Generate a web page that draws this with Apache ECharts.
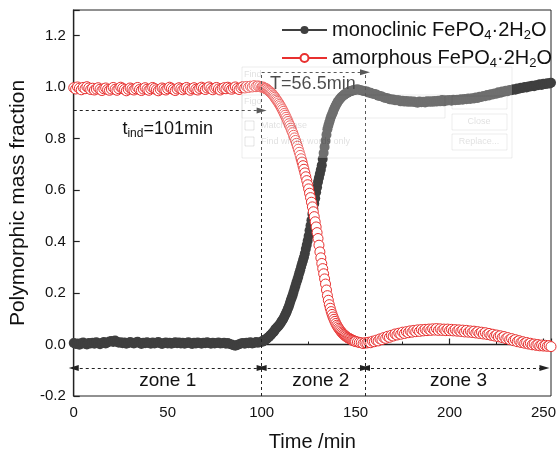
<!DOCTYPE html>
<html><head><meta charset="utf-8">
<script src="https://cdn.jsdelivr.net/npm/echarts@6/dist/echarts.min.js"></script>
<style>html,body{margin:0;padding:0;background:#fff}#c{width:559px;height:457px}</style>
</head><body><div id="c"></div>
<script>
// ---------------- data ----------------
// sampling grid of the measurement: [first, last, step] in min
const timeSegments = [[0, 99, 1], [100, 149.5, 0.5], [150, 255, 1]];
const seriesNames = ['monoclinic FePO4·2H2O', 'amorphous FePO4·2H2O'];
const monoclinic = [
 0.006,0.002,0.004,-0.001,0.005,0.008,0.003,0.000,0.006,0.004,
 0.007,0.003,0.009,0.005,0.001,0.006,0.010,0.004,0.008,0.012,
 0.014,0.010,0.016,0.011,0.007,0.009,0.005,0.008,0.003,0.006,
 0.010,0.007,0.004,0.008,0.011,0.006,0.002,0.007,0.005,0.009,
 0.006,0.003,0.008,0.004,0.007,0.010,0.005,0.002,0.006,0.008,
 0.004,0.007,0.003,0.006,0.009,0.005,0.008,0.004,0.007,0.003,
 0.006,0.009,0.005,0.002,0.007,0.004,0.008,0.006,0.003,0.007,
 0.005,0.009,0.006,0.003,0.007,0.004,0.006,0.008,0.004,0.005,
 0.007,0.003,0.006,0.002,0.000,-0.003,-0.005,-0.002,0.001,0.004,
 0.006,0.003,0.007,0.005,0.009,0.004,0.006,0.010,0.007,0.009,
 // 100 - 149.5, every 0.5 min
 0.012,0.011,0.015,0.018,0.019,0.022,0.024,0.028,0.030,0.035,
 0.038,0.043,0.047,0.050,0.056,0.061,0.064,0.069,0.072,0.078,
 0.082,0.089,0.094,0.099,0.107,0.115,0.122,0.130,0.140,0.149,
 0.160,0.172,0.182,0.192,0.204,0.217,0.228,0.241,0.252,0.263,
 0.277,0.289,0.302,0.315,0.327,0.339,0.354,0.371,0.387,0.403,
 0.422,0.443,0.462,0.483,0.507,0.528,0.547,0.568,0.592,0.611,
 0.632,0.648,0.664,0.679,0.697,0.721,0.744,0.768,0.792,0.815,
 0.837,0.851,0.864,0.876,0.887,0.896,0.904,0.914,0.922,0.930,
 0.937,0.943,0.948,0.953,0.957,0.962,0.965,0.968,0.971,0.974,
 0.976,0.978,0.980,0.982,0.983,0.985,0.986,0.987,0.988,0.989,
 // 150 - 255
 0.990,0.992,0.989,0.988,0.985,0.984,0.983,0.979,0.978,0.975,
 0.974,0.972,0.967,0.966,0.964,0.960,0.958,0.957,0.953,0.952,
 0.952,0.949,0.949,0.949,0.945,0.947,0.944,0.946,0.943,0.945,
 0.943,0.944,0.942,0.940,0.944,0.942,0.943,0.941,0.945,0.943,
 0.945,0.943,0.946,0.944,0.947,0.945,0.950,0.945,0.949,0.948,
 0.950,0.947,0.951,0.949,0.951,0.950,0.953,0.951,0.954,0.953,
 0.956,0.954,0.957,0.956,0.960,0.958,0.963,0.962,0.966,0.965,
 0.970,0.968,0.973,0.972,0.976,0.975,0.980,0.978,0.983,0.982,
 0.986,0.984,0.989,0.988,0.992,0.990,0.995,0.994,0.998,0.997,
 1.001,0.999,1.003,1.003,1.006,1.004,1.008,1.008,1.011,1.009,
 1.013,1.012,1.015,1.014,1.017,1.016
];
const amorphous = [
 0.998,0.993,1.001,0.996,0.990,0.999,0.994,1.002,0.997,0.991,
 0.996,0.989,0.993,0.998,0.992,0.987,0.994,0.997,0.991,0.988,
 0.993,0.999,0.992,0.988,0.994,1.000,0.996,0.991,0.986,0.992,
 0.997,0.993,0.989,0.994,0.999,0.991,0.987,0.993,0.998,0.992,
 0.988,0.994,0.999,0.995,0.990,0.986,0.992,0.997,0.993,0.989,
 0.994,1.000,0.996,0.991,0.987,0.993,0.998,0.994,0.990,0.995,
 0.999,0.993,0.988,0.994,0.998,0.992,0.989,0.995,1.000,0.996,
 0.991,0.997,1.001,0.995,0.990,0.996,0.999,0.993,0.989,0.995,
 0.998,0.994,1.000,0.996,0.992,0.997,1.001,0.995,0.991,0.998,
 1.002,0.997,1.003,0.999,1.004,1.001,1.006,1.002,1.005,1.003,
 // 100 - 149.5, every 0.5 min
 1.000,1.001,0.998,0.997,0.995,0.994,0.991,0.988,0.985,0.982,
 0.978,0.975,0.970,0.966,0.961,0.955,0.950,0.945,0.939,0.933,
 0.927,0.920,0.913,0.906,0.898,0.891,0.883,0.875,0.867,0.858,
 0.850,0.841,0.832,0.823,0.813,0.803,0.793,0.782,0.771,0.759,
 0.747,0.735,0.722,0.709,0.695,0.681,0.667,0.652,0.637,0.621,
 0.605,0.588,0.571,0.553,0.535,0.516,0.497,0.477,0.457,0.435,
 0.412,0.386,0.360,0.337,0.315,0.295,0.275,0.255,0.235,0.212,
 0.190,0.172,0.155,0.141,0.128,0.117,0.107,0.098,0.090,0.082,
 0.075,0.069,0.063,0.058,0.053,0.048,0.044,0.040,0.037,0.034,
 0.031,0.028,0.026,0.024,0.022,0.020,0.018,0.016,0.015,0.013,
 // 150 - 255
 0.012,0.010,0.008,0.007,0.004,0.007,0.006,0.009,0.007,0.013,
 0.011,0.017,0.014,0.022,0.019,0.027,0.024,0.032,0.028,0.036,
 0.033,0.041,0.037,0.044,0.040,0.048,0.043,0.050,0.046,0.053,
 0.048,0.055,0.050,0.057,0.051,0.058,0.053,0.059,0.054,0.060,
 0.055,0.061,0.056,0.062,0.055,0.061,0.055,0.060,0.054,0.060,
 0.054,0.059,0.053,0.058,0.052,0.057,0.051,0.056,0.049,0.055,
 0.048,0.053,0.047,0.052,0.045,0.050,0.043,0.048,0.041,0.046,
 0.039,0.043,0.036,0.040,0.033,0.037,0.030,0.034,0.027,0.031,
 0.023,0.027,0.019,0.023,0.015,0.019,0.011,0.015,0.008,0.011,
 0.005,0.008,0.002,0.005,-0.001,0.002,-0.003,0.000,-0.005,-0.002,
 -0.006,-0.003,-0.007,-0.004,-0.008,-0.006
];
const xTickLabels = [0, 50, 100, 150, 200, 250];
const yTickLabels = ['-0.2','0.0','0.2','0.4','0.6','0.8','1.0','1.2'];
const tIndStart = 100;     // induction end, min
const zone2End = 155;      // end of zone 2, min
const zonesEnd = 250.5;
const tIndLevel = 0.909;
const tLevel = 1.058;
const zoneLevel = -0.091;
const zoneNames = ['zone 1', 'zone 2', 'zone 3'];
const tIndText = ['t', 'ind', '=101min'];
const tText = 'T=56.5min';

// ---------------- chart ----------------
const FONT = "'Liberation Sans', Arial, sans-serif";
const time = [];
timeSegments.forEach(([a, b, s]) => { for (let k = 0; a + k * s <= b + 1e-9; k++) time.push(+(a + k * s).toFixed(2)); });
const chart = echarts.init(document.getElementById('c'), null, {renderer: 'canvas'});
const XMIN = 0, XMAX = 254, YMIN = -0.2, YMAX = 1.3;

function richName(n) {
  return n.replace('FePO4·2H2O', '{a|FePO}{s|4}{a|·2H}{s|2}{a|O}').replace(/^([a-z]+ )/, '{a|$1}');
}

const dashed = {type: [3, 3], color: '#222', width: 1};
const arrowSize = [6, 10];
function seg(x1, y1, x2, y2, s1, s2) {
  return [
    {coord: [x1, y1], symbol: s1, symbolSize: arrowSize},
    {coord: [x2, y2], symbol: s2, symbolSize: arrowSize}
  ];
}

const option = {
  animation: false,
  backgroundColor: '#fff',
  textStyle: {fontFamily: FONT},
  grid: {left: 73, right: 4, top: 10, bottom: 57, show: true, borderColor: '#222', borderWidth: 1, backgroundColor: 'transparent'},
  legend: {
    orient: 'vertical', left: 276, top: 15, itemGap: 6,
    itemWidth: 45, itemHeight: 10,
    data: seriesNames,
    formatter: richName,
    textStyle: {
      fontFamily: FONT, color: '#111', fontSize: 20,
      rich: {
        a: {fontSize: 20, fontFamily: FONT, color: '#111', lineHeight: 24},
        s: {fontSize: 13, fontFamily: FONT, color: '#111', lineHeight: 13, verticalAlign: 'bottom'}
      }
    }
  },
  xAxis: {
    type: 'value', min: XMIN, max: XMAX, interval: 50,
    name: 'Time /min', nameLocation: 'middle', nameGap: 36,
    nameTextStyle: {fontSize: 20, color: '#111', fontFamily: FONT},
    axisLine: {lineStyle: {color: '#222', width: 1.3}},
    axisTick: {inside: true, length: 6, lineStyle: {color: '#222', width: 1.2}},
    minorTick: {show: true, splitNumber: 2, length: 3, lineStyle: {color: '#222'}},
    axisLabel: {fontSize: 15, color: '#111', margin: 9, fontFamily: FONT,
      formatter: v => xTickLabels.indexOf(Math.round(v)) >= 0 && Math.abs(v - Math.round(v)) < 1e-6 ? String(Math.round(v)) : ''},
    splitLine: {show: false}
  },
  yAxis: {
    type: 'value', min: YMIN, max: YMAX, interval: 0.2,
    name: 'Polymorphic mass fraction', nameLocation: 'middle', nameGap: 41,
    nameTextStyle: {fontSize: 21, color: '#111', fontFamily: FONT},
    axisLine: {show: true, lineStyle: {color: '#222', width: 1.3}},
    axisTick: {show: true, inside: true, length: 6, lineStyle: {color: '#222', width: 1.2}},
    axisLabel: {fontSize: 15, color: '#111', margin: 8, fontFamily: FONT,
      formatter: v => { const s = v.toFixed(1); return yTickLabels.indexOf(s) >= 0 && Math.abs(v - parseFloat(s)) < 1e-6 ? s : ''; }},
    splitLine: {show: false}
  },
  series: [
    {
      name: seriesNames[0], type: 'line',
      data: time.map((t, i) => [t, monoclinic[i]]),
      symbol: 'circle', symbolSize: 10, showAllSymbol: true,
      itemStyle: {color: '#3f3f3f'},
      lineStyle: {color: '#3f3f3f', width: 1},
      z: 2,
      markLine: {
        silent: true, animation: false, label: {show: false},
        lineStyle: dashed, symbol: ['none', 'none'],
        emphasis: {disabled: true},
        data: [
          seg(tIndStart, YMIN, tIndStart, tLevel, 'none', 'none'),
          seg(zone2End, YMIN, zone2End, tLevel, 'none', 'none'),
          seg(tIndStart, tLevel, zone2End, tLevel, 'none', 'triangle'),
          seg(XMIN, tIndLevel, tIndStart, tIndLevel, 'none', 'triangle'),
          seg(XMIN, zoneLevel, tIndStart, zoneLevel, 'triangle', 'triangle'),
          seg(tIndStart, zoneLevel, zone2End, zoneLevel, 'triangle', 'triangle'),
          seg(zone2End, zoneLevel, zonesEnd, zoneLevel, 'triangle', 'triangle')
        ]
      }
    },
    {
      name: seriesNames[1], type: 'line',
      data: time.map((t, i) => [t, amorphous[i]]),
      symbol: 'circle', symbolSize: 10, showAllSymbol: true,
      itemStyle: {color: '#fff', borderColor: '#e8302f', borderWidth: 1},
      lineStyle: {color: '#e8302f', width: 1},
      z: 3
    }
  ]
};
chart.setOption(option);

// annotation texts positioned in data space
function px(x, y) { return chart.convertToPixel({gridIndex: 0}, [x, y]); }
const g = [];
const zoneCenters = [(XMIN + tIndStart) / 2, (tIndStart + zone2End) / 2 + 4, (zone2End + zonesEnd) / 2 + 2];
zoneNames.forEach((n, i) => {
  const p = px(zoneCenters[i], -0.142);
  g.push({type: 'text', x: p[0], y: p[1], z: 10,
    style: {text: n, font: '19px ' + FONT, fill: '#111', align: 'center', verticalAlign: 'middle'}});
});
const pInd = px(50, 0.838);
g.push({type: 'text', x: pInd[0], y: pInd[1], z: 10,
  style: {text: '{a|' + tIndText[0] + '}{s|' + tIndText[1] + '}{a|' + tIndText[2] + '}', align: 'center', verticalAlign: 'middle',
    rich: {a: {font: '18px ' + FONT, fill: '#111', lineHeight: 22}, s: {font: '12px ' + FONT, fill: '#111', lineHeight: 12, verticalAlign: 'bottom'}}}});
const pT = px(104.5, 1.012);
g.push({type: 'text', x: pT[0], y: pT[1], z: 10,
  style: {text: tText, font: '18px ' + FONT, fill: '#111', align: 'left', verticalAlign: 'middle'}});

// faint ghost of an overlaid dialog present in the reference image
const ghostStroke = 'rgba(0,0,0,0.07)';
const ghostText = 'rgba(0,0,0,0.13)';
g.push({type: 'rect', z: 20, shape: {x: 242, y: 67, width: 270, height: 91},
  style: {fill: 'rgba(255,255,255,0.25)', stroke: ghostStroke, lineWidth: 1}});
g.push({type: 'text', z: 21, x: 244, y: 70, style: {text: 'Find', font: '9px ' + FONT, fill: ghostText}});
g.push({type: 'text', z: 21, x: 244, y: 97, style: {text: 'Figo', font: '9px ' + FONT, fill: ghostText}});
g.push({type: 'rect', z: 21, shape: {x: 242, y: 95, width: 203, height: 23}, style: {fill: 'none', stroke: ghostStroke}});
g.push({type: 'rect', z: 21, shape: {x: 245, y: 121, width: 9, height: 9}, style: {fill: 'none', stroke: 'rgba(0,0,0,0.1)'}});
g.push({type: 'rect', z: 21, shape: {x: 245, y: 137, width: 9, height: 9}, style: {fill: 'none', stroke: 'rgba(0,0,0,0.1)'}});
g.push({type: 'text', z: 21, x: 261, y: 121, style: {text: 'Match case', font: '9px ' + FONT, fill: ghostText}});
g.push({type: 'text', z: 21, x: 261, y: 137, style: {text: 'Find whole words only', font: '9px ' + FONT, fill: ghostText}});
g.push({type: 'rect', z: 21, shape: {x: 452, y: 96, width: 55, height: 13}, style: {fill: 'none', stroke: ghostStroke}});
g.push({type: 'rect', z: 21, shape: {x: 452, y: 114, width: 55, height: 16}, style: {fill: 'none', stroke: ghostStroke}});
g.push({type: 'text', z: 21, x: 479, y: 122, style: {text: 'Close', font: '9px ' + FONT, fill: ghostText, align: 'center', verticalAlign: 'middle'}});
g.push({type: 'rect', z: 21, shape: {x: 452, y: 134, width: 55, height: 16}, style: {fill: 'none', stroke: ghostStroke}});
g.push({type: 'text', z: 21, x: 479, y: 142, style: {text: 'Replace...', font: '9px ' + FONT, fill: ghostText, align: 'center', verticalAlign: 'middle'}});
chart.setOption({graphic: {elements: g}});
</script>
</body></html>
